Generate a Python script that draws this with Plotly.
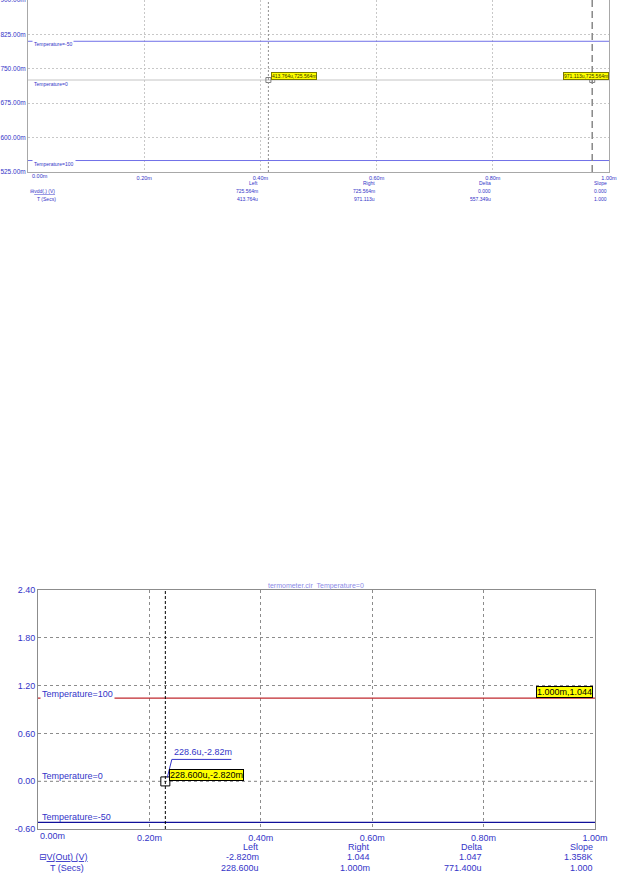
import plotly.graph_objects as go

# ---------------- data ----------------
time_span = [0.0, 1.0e-3]

# top chart (small screenshot)
top_names = ["Temperature=-50", "Temperature=0", "Temperature=100"]
top_values = [0.810, 0.725564, 0.550]
top_colors = ["#7070e8", "#c4c4c4", "#7070e8"]
top_y_ticks = [0.525, 0.600, 0.675, 0.750, 0.825, 0.900]
top_y_ticktext = ["525.00m", "600.00m", "675.00m", "750.00m", "825.00m", "900.00m"]
x_ticks = [0.0, 0.2e-3, 0.4e-3, 0.6e-3, 0.8e-3, 1.0e-3]
x_ticktext = ["0.00m", "0.20m", "0.40m", "0.60m", "0.80m", "1.00m"]
top_cursor_x = [413.764e-6, 971.113e-6]
top_cursor_y = 0.725564
top_cursor_labels = ["413.764u,725.564m", "971.113u,725.564m"]
readout_headers = ["Left", "Right", "Delta", "Slope"]
top_readout_y = ["725.564m", "725.564m", "0.000", "0.000"]
top_readout_x = ["413.764u", "971.113u", "557.349u", "1.000"]

# bottom chart
bot_names = ["Temperature=100", "Temperature=0", "Temperature=-50"]
bot_values = [1.044, -2.82e-3, -0.516]
bot_colors = ["#c0282e", "#9a9a9a", "#10109a"]
bot_y_ticks = [-0.6, 0.0, 0.6, 1.2, 1.8, 2.4]
bot_y_ticktext = ["-0.60", "0.00", "0.60", "1.20", "1.80", "2.40"]
bot_cursor_x = [228.6e-6, 1.0e-3]
bot_cursor_y = [-2.82e-3, 1.044]
bot_cursor_labels = ["228.600u,-2.820m", "1.000m,1.044"]
bot_tag_text = "228.6u,-2.82m"
bot_readout_y = ["-2.820m", "1.044", "1.047", "1.358K"]
bot_readout_x = ["228.600u", "1.000m", "771.400u", "1.000"]

W, H = 624, 881
FONT = "Liberation Sans, Arial, DejaVu Sans, sans-serif"
BLUE = "#3434c8"


def py(p):
    return 1 - p / H


fig = go.Figure()

# ---------------- top chart traces ----------------
for name, val, col in zip(top_names, top_values, top_colors):
    fig.add_trace(go.Scatter(x=time_span, y=[val, val], mode="lines", name=name,
                             line=dict(color=col, width=1), xaxis="x", yaxis="y",
                             hoverinfo="skip"))
fig.add_trace(go.Scatter(x=top_cursor_x, y=[top_cursor_y] * 2, mode="markers",
                         marker=dict(symbol="square-open", size=5, color="#808080",
                                     line=dict(width=1)),
                         xaxis="x", yaxis="y", hoverinfo="skip"))

# ---------------- bottom chart traces ----------------
for name, val, col in zip(bot_names, bot_values, bot_colors):
    dash = "3px,3px" if name == "Temperature=0" else "solid"
    fig.add_trace(go.Scatter(x=time_span, y=[val, val], mode="lines", name=name,
                             line=dict(color=col, width=1.2, dash=dash),
                             xaxis="x2", yaxis="y2", hoverinfo="skip"))
fig.add_trace(go.Scatter(x=[bot_cursor_x[0]], y=[bot_cursor_y[0]], mode="markers",
                         marker=dict(symbol="square-open", size=9, color="#000000",
                                     line=dict(width=1)),
                         xaxis="x2", yaxis="y2", hoverinfo="skip"))

shapes = []
annotations = []

# cursors top
shapes.append(dict(type="line", xref="x", yref="y domain", x0=top_cursor_x[0],
                   x1=top_cursor_x[0], y0=0, y1=1,
                   line=dict(color="#909090", width=1, dash="2px,2px")))
shapes.append(dict(type="line", xref="x", yref="y domain", x0=top_cursor_x[1],
                   x1=top_cursor_x[1], y0=0, y1=1,
                   line=dict(color="#888888", width=1.5, dash="7px,4px")))
# cursor bottom
shapes.append(dict(type="line", xref="x2", yref="y2 domain", x0=bot_cursor_x[0],
                   x1=bot_cursor_x[0], y0=0, y1=1,
                   line=dict(color="#000000", width=1, dash="3px,2px")))

# leader line + underline for bottom tag (pixel offsets converted to data units)
dxp = (time_span[1] - time_span[0]) / (595 - 38)
dyp = (bot_y_ticks[-1] - bot_y_ticks[0]) / (829 - 590)
cx, cy = bot_cursor_x[0], bot_cursor_y[0]
shapes.append(dict(type="path", xref="x2", yref="y2",
                   path=f"M {cx + 2*dxp} {cy + 4*dyp} L {cx + 6.5*dxp} {cy + 22*dyp} L {cx + 66*dxp} {cy + 22*dyp}",
                   line=dict(color="#3434c8", width=1)))

# series labels
top_label_bg = ["white", "rgba(0,0,0,0)", "white"]
top_label_shift = [-3, -4, -3]
for name, val, bg, ys in zip(top_names, top_values, top_label_bg, top_label_shift):
    annotations.append(dict(xref="x", yref="y", x=0, y=val, xanchor="left", yanchor="middle",
                            xshift=4, yshift=ys, text=name, showarrow=False,
                            font=dict(family=FONT, size=5, color=BLUE),
                            bgcolor=bg, borderpad=1))
bot_label_shift = [4, 5, 5]
bot_label_bg = ["white", "rgba(0,0,0,0)", "rgba(0,0,0,0)"]
for name, val, bg, ys in zip(bot_names, bot_values, bot_label_bg, bot_label_shift):
    annotations.append(dict(xref="x2", yref="y2", x=0, y=val, xanchor="left", yanchor="middle",
                            xshift=2, yshift=ys, text=name, showarrow=False,
                            font=dict(family=FONT, size=9, color=BLUE),
                            bgcolor=bg, borderpad=1))

# cursor value boxes
annotations.append(dict(xref="x", yref="y", x=top_cursor_x[0], y=top_cursor_y,
                        xanchor="left", yanchor="bottom", xshift=3, yshift=0,
                        text=top_cursor_labels[0], showarrow=False,
                        font=dict(family=FONT, size=5, color="#333300"),
                        bgcolor="#ffff00", bordercolor="#7a7a00", borderwidth=1, borderpad=0))
annotations.append(dict(xref="x", yref="y", x=time_span[1], y=top_cursor_y,
                        xanchor="right", yanchor="bottom", xshift=0, yshift=0,
                        text=top_cursor_labels[1], showarrow=False,
                        font=dict(family=FONT, size=5, color="#333300"),
                        bgcolor="#ffff00", bordercolor="#7a7a00", borderwidth=1, borderpad=0))
annotations.append(dict(xref="x2", yref="y2", x=bot_cursor_x[0], y=bot_cursor_y[0],
                        xanchor="left", yanchor="bottom", xshift=4, yshift=0,
                        text=bot_cursor_labels[0], showarrow=False,
                        font=dict(family=FONT, size=9, color="#000000"),
                        bgcolor="#ffff00", bordercolor="#000000", borderwidth=1, borderpad=0))
annotations.append(dict(xref="x2", yref="y2", x=bot_cursor_x[1], y=bot_cursor_y[1],
                        xanchor="right", yanchor="bottom", xshift=-2, yshift=0,
                        text=bot_cursor_labels[1], showarrow=False,
                        font=dict(family=FONT, size=9, color="#000000"),
                        bgcolor="#ffff00", bordercolor="#000000", borderwidth=1, borderpad=0))
annotations.append(dict(xref="x2", yref="y2", x=cx, y=cy, xanchor="left", yanchor="bottom",
                        xshift=7, yshift=22, text=bot_tag_text, showarrow=False,
                        font=dict(family=FONT, size=9, color=BLUE)))

# first x tick labels (left aligned at axis origin)
annotations.append(dict(xref="x", yref="paper", x=x_ticks[0], y=py(176), xanchor="left",
                        yanchor="middle", xshift=2, text=x_ticktext[0], showarrow=False,
                        font=dict(family=FONT, size=5.5, color=BLUE)))
annotations.append(dict(xref="x2", yref="paper", x=x_ticks[0], y=py(836), xanchor="left",
                        yanchor="middle", xshift=0, text=x_ticktext[0], showarrow=False,
                        font=dict(family=FONT, size=9, color=BLUE)))

# readout tables
for xv, hdr, yv, tv in zip(x_ticks[2:], readout_headers, top_readout_y, top_readout_x):
    for txt, pyy in ((hdr, 183), (yv, 191), (tv, 199)):
        annotations.append(dict(xref="x", yref="paper", x=xv, y=py(pyy), xanchor="right",
                                yanchor="middle", xshift=0, text=txt, showarrow=False,
                                font=dict(family=FONT, size=5, color=BLUE)))
for xv, hdr, yv, tv in zip(x_ticks[2:], readout_headers, bot_readout_y, bot_readout_x):
    for txt, pyy in ((hdr, 847), (yv, 857), (tv, 868)):
        annotations.append(dict(xref="x2", yref="paper", x=xv, y=py(pyy), xanchor="right",
                                yanchor="middle", xshift=0, text=txt, showarrow=False,
                                font=dict(family=FONT, size=9, color=BLUE)))

# trace name / axis rows
annotations.append(dict(xref="paper", yref="paper", x=28 / W, y=py(191), xanchor="left",
                        yanchor="middle", showarrow=False,
                        text="⊟<span style='text-decoration:underline'>vdd(.) (V)</span>",
                        font=dict(family=FONT, size=5, color=BLUE)))
annotations.append(dict(xref="paper", yref="paper", x=35 / W, y=py(199), xanchor="left",
                        yanchor="middle", showarrow=False, text="T (Secs)",
                        font=dict(family=FONT, size=5, color=BLUE)))
annotations.append(dict(xref="paper", yref="paper", x=37 / W, y=py(857), xanchor="left",
                        yanchor="middle", showarrow=False,
                        text="⊟<span style='text-decoration:underline'>V(Out) (V)</span>",
                        font=dict(family=FONT, size=9, color=BLUE)))
annotations.append(dict(xref="paper", yref="paper", x=48 / W, y=py(868), xanchor="left",
                        yanchor="middle", showarrow=False, text="T (Secs)",
                        font=dict(family=FONT, size=9, color=BLUE)))

# bottom chart title (partly hidden in the original)
annotations.append(dict(xref="paper", yref="paper", x=316 / W, y=py(586), xanchor="center",
                        yanchor="middle", showarrow=False, text="termometer.cir  Temperature=0",
                        font=dict(family=FONT, size=7, color="#8c8ce8")))

fig.update_layout(
    width=W, height=H, margin=dict(l=0, r=0, t=0, b=0, autoexpand=False),
    paper_bgcolor="white", plot_bgcolor="white", showlegend=False, hovermode=False,
    font=dict(family=FONT, color=BLUE),
    xaxis=dict(domain=[28 / W, 609 / W], anchor="y", range=time_span, automargin=False,
               tickvals=x_ticks, ticktext=[""] + x_ticktext[1:], ticklabeloverflow="allow",
               tickfont=dict(size=5.5, color=BLUE), ticks="", showgrid=True,
               gridcolor="#c8c8c8", griddash="2px,2px", gridwidth=1,
               showline=True, linecolor="#a8a8a8", linewidth=1, mirror=True,
               zeroline=False, fixedrange=True),
    yaxis=dict(domain=[py(172), 1.0], anchor="x", range=[top_y_ticks[0], top_y_ticks[-1]],
               automargin=False, ticklabeloverflow="allow",
               tickvals=top_y_ticks, ticktext=top_y_ticktext,
               tickfont=dict(size=6.5, color=BLUE), ticks="", showgrid=True,
               gridcolor="#c8c8c8", griddash="2px,2px", gridwidth=1,
               showline=True, linecolor="#a8a8a8", linewidth=1, mirror=True,
               zeroline=False, fixedrange=True),
    xaxis2=dict(domain=[38 / W, 595 / W], anchor="y2", range=time_span, automargin=False,
                tickvals=x_ticks, ticktext=[""] + x_ticktext[1:], ticklabeloverflow="allow",
                tickfont=dict(size=9, color=BLUE), ticks="", showgrid=True,
                gridcolor="#8c8c8c", griddash="3px,3px", gridwidth=1,
                showline=True, linecolor="#8c8c8c", linewidth=1, mirror=True,
                zeroline=False, fixedrange=True),
    yaxis2=dict(domain=[py(829), py(590)], anchor="x2", automargin=False,
                range=[bot_y_ticks[0], bot_y_ticks[-1]], ticklabeloverflow="allow",
                tickvals=bot_y_ticks, ticktext=bot_y_ticktext,
                tickfont=dict(size=9, color=BLUE), ticks="", showgrid=True,
                gridcolor="#8c8c8c", griddash="3px,3px", gridwidth=1,
                showline=True, linecolor="#8c8c8c", linewidth=1, mirror=True,
                zeroline=False, fixedrange=True),
    shapes=shapes, annotations=annotations,
)

fig.write_html("out.html", config={"displayModeBar": False, "staticPlot": True},
               post_script="document.body.style.margin='0px';document.body.style.padding='0px';")
